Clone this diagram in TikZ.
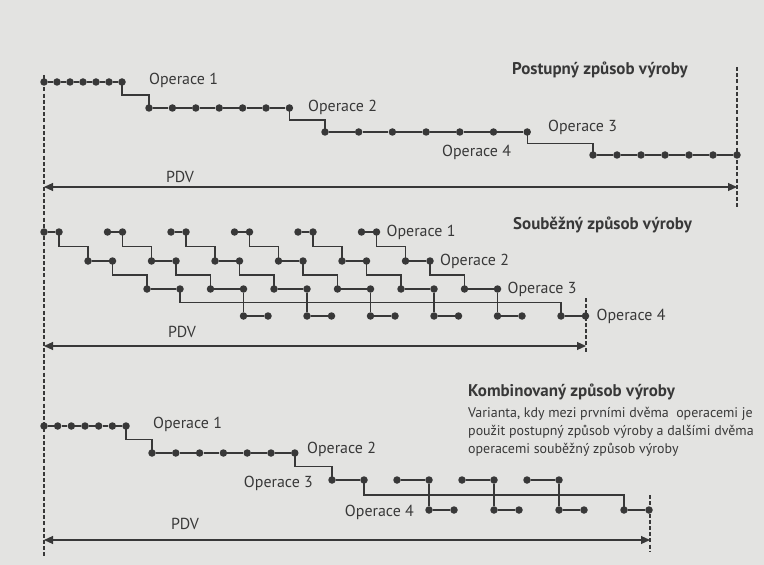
\documentclass[tikz,border=0pt]{standalone}
\usepackage{fontspec}
\setmainfont{PT Sans}
\usetikzlibrary{positioning, arrows.meta, calc}
\definecolor{ink}{HTML}{383838}
\definecolor{paper}{HTML}{E3E3E1}

\begin{document}
\begin{tikzpicture}[
        x=1bp, y=-1bp,
        >={Triangle[length=9bp, width=8bp]},
        dot/.style={circle, fill=ink, minimum size=7.5bp, inner sep=0pt},
        link/.style={draw=ink, line width=1.4bp},
        guide/.style={draw=ink, line width=1.1bp, dash pattern=on 4bp off 2.2bp},
        span/.style={draw=ink, line width=1.1bp, <->},
        lbl/.style={text=ink, font=\fontsize{16}{18}\selectfont, inner sep=0pt, anchor=west},
        title/.style={lbl, font=\fontsize{17}{19}\selectfont\bfseries},
        note/.style={lbl, font=\fontsize{14}{18}\selectfont, align=left, anchor=north west},
    ]

        % Paper
        \fill[paper] (0,0) rectangle (764,565);
        \useasboundingbox (0,0) rectangle (764,565);

        % Common start line
        \coordinate (start-top) at (44,75);
        \coordinate (start-bot) at (44,556);
        \draw[guide] (start-top) -- (start-bot);

        % ---------- Postupny zpusob: whole batch passes each operation
        \foreach \i in {1,...,7} {
            \node[dot] (P1-\i) at ({44+13*(\i-1)},82) {};
            \node[dot] (P2-\i) at ({149+23.4*(\i-1)},108) {};
            \node[dot] (P3-\i) at ({325+33.7*(\i-1)},132) {};
            \node[dot] (P4-\i) at ({593+24*(\i-1)},155) {};
        }

        \foreach \r in {1,...,4}
            \foreach \i [count=\j from 2] in {1,...,6}
                \draw[link] (P\r-\i) -- (P\r-\j);

        \foreach \a/\b in {1/2, 2/3, 3/4}
            \draw[link] (P\a-7.center) |- ($(P\a-7)!.5!(P\b-1)$) -| (P\b-1.center);

        \node[lbl] (P-op1) at (149,80) {Operace 1};
        \node[lbl] (P-op2) at (308,107) {Operace 2};
        \node[lbl] (P-op3) at (548,127) {Operace 3};
        \node[lbl] (P-op4) at (442,152) {Operace 4};
        \node[title] (P-title) at (512,70) {Postupný způsob výroby};

        \coordinate (P-end-top) at (737,67);
        \coordinate (P-end-bot) at (737,207);
        \draw[guide] (P-end-top) -- (P-end-bot);

        \coordinate (P-from) at (44,187);
        \coordinate (P-to) at (737,187);
        \draw[span] (P-from) -- (P-to);
        \node[lbl, anchor=center] (P-pdv) at (180,177) {PDV};

        % ---------- Soubezny zpusob: pieces move on one by one
        \foreach \i in {1,...,6} {
            \node[dot] (S1a-\i) at ({44+63.5*(\i-1)},232) {};
            \node[dot] (S1b-\i) at ({59+63.5*(\i-1)},232) {};
            \node[dot] (S2a-\i) at ({88+63.5*(\i-1)},261) {};
            \node[dot] (S2b-\i) at ({112.5+63.5*(\i-1)},261) {};
            \node[dot] (S3a-\i) at ({147+63.5*(\i-1)},289) {};
            \node[dot] (S3b-\i) at ({180+63.5*(\i-1)},289) {};
            \node[dot] (S4a-\i) at ({243.5+63.5*(\i-1)},316) {};
            \node[dot] (S4b-\i) at ({268+63.5*(\i-1)},316) {};
        }

        \foreach \i in {1,...,6} {
            \draw[link] (S1a-\i) -- (S1b-\i);
            \draw[link] (S2a-\i) -- (S2b-\i);
            \draw[link] (S3a-\i) -- (S3b-\i);
            \draw[link] (S4a-\i) -- (S4b-\i);
            \draw[link] (S1b-\i.center) |- ($(S1b-\i)!.5!(S2a-\i)$) -| (S2a-\i.center);
            \draw[link] (S2b-\i.center) |- ($(S2b-\i)!.5!(S3a-\i)$) -| (S3a-\i.center);
        }

        \foreach \i [count=\j from 2] in {1,...,5}
            \draw[link] (S3b-\j) -- (S4a-\i);
        \draw[link] (S3b-1.center) |- ($(S3b-1)!.5!(S4a-6)$) -| (S4a-6.center);

        \node[lbl, right=6bp of S1b-6] (S-op1) {Operace 1};
        \node[lbl, right=6bp of S2b-6] (S-op2) {Operace 2};
        \node[lbl, right=6bp of S3b-6] (S-op3) {Operace 3};
        \node[lbl, right=7bp of S4b-6] (S-op4) {Operace 4};
        \node[title] (S-title) at (513,225) {Souběžný způsob výroby};

        \coordinate (S-end-top) at (586,298);
        \coordinate (S-end-bot) at (586,353);
        \draw[guide] (S-end-top) -- (S-end-bot);

        \coordinate (S-from) at (44,346);
        \coordinate (S-to) at (586,346);
        \draw[span] (S-from) -- (S-to);
        \node[lbl, anchor=center] (S-pdv) at (182,332) {PDV};

        % ---------- Kombinovany zpusob
        \foreach \i in {1,...,7} {
            \node[dot] (K1-\i) at ({44+13.67*(\i-1)},426) {};
            \node[dot] (K2-\i) at ({152+23.8*(\i-1)},453) {};
        }
        \foreach \i in {1,...,4} {
            \node[dot] (K3a-\i) at ({332+65*(\i-1)},480) {};
            \node[dot] (K3b-\i) at ({364+65*(\i-1)},480) {};
            \node[dot] (K4a-\i) at ({429+65*(\i-1)},510) {};
            \node[dot] (K4b-\i) at ({454+65*(\i-1)},510) {};
        }

        \foreach \r in {1,2}
            \foreach \i [count=\j from 2] in {1,...,6}
                \draw[link] (K\r-\i) -- (K\r-\j);
        \draw[link] (K1-7.center) |- ($(K1-7)!.5!(K2-1)$) -| (K2-1.center);
        \draw[link] (K2-7.center) |- ($(K2-7)!.5!(K3a-1)$) -| (K3a-1.center);

        \foreach \i in {1,...,4} {
            \draw[link] (K3a-\i) -- (K3b-\i);
            \draw[link] (K4a-\i) -- (K4b-\i);
        }
        \foreach \i [count=\j from 2] in {1,...,3}
            \draw[link] (K3b-\j) -- (K4a-\i);
        \draw[link] (K3b-1.center) |- ($(K3b-1)!.5!(K4a-4)$) -| (K4a-4.center);

        \node[lbl] (K-op1) at (153,424) {Operace 1};
        \node[lbl] (K-op2) at (307,449) {Operace 2};
        \node[lbl, anchor=east] (K-op3) at (313,483) {Operace 3};
        \node[lbl, anchor=east] (K-op4) at (414,512) {Operace 4};
        \node[title] (K-title) at (468,392) {Kombinovaný způsob výroby};
        \node[note] (K-note) at (468,407) {Varianta, kdy mezi prvními dvěma\ \ operacemi je\\
            použit postupný způsob výroby a dalšími dvěma\\
            operacemi souběžný způsob výroby};

        \coordinate (K-end-top) at (650,495);
        \coordinate (K-end-bot) at (650,552);
        \draw[guide] (K-end-top) -- (K-end-bot);

        \coordinate (K-from) at (44,540);
        \coordinate (K-to) at (650,540);
        \draw[span] (K-from) -- (K-to);
        \node[lbl, anchor=center] (K-pdv) at (185,524) {PDV};
    \end{tikzpicture}
\end{document}
